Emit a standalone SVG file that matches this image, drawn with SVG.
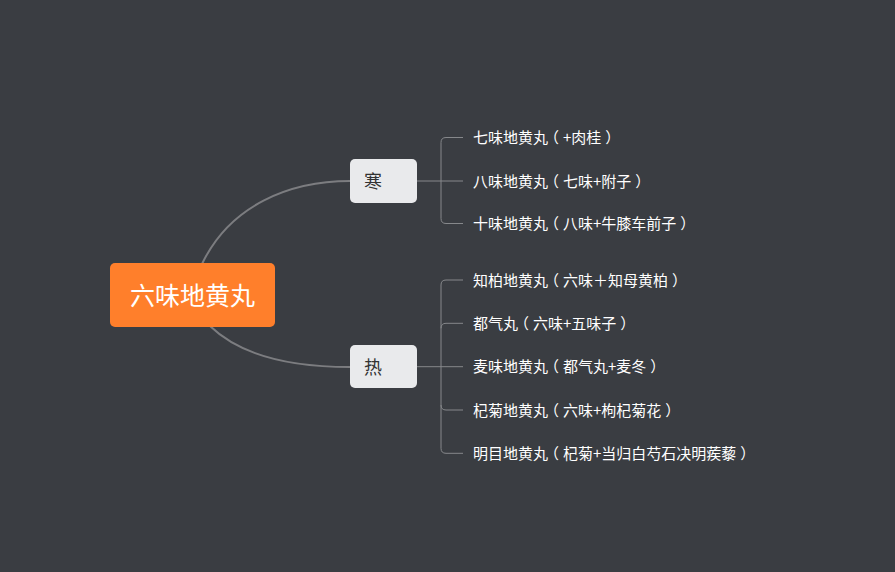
<svg xmlns="http://www.w3.org/2000/svg" width="895" height="572" viewBox="0 0 895 572">
<style>
.main{fill:none;stroke:#7c7d80;stroke-width:2}
.br{fill:none;stroke:#86888b;stroke-width:1}
.leaf{font-family:"Noto Sans CJK SC","Noto Sans",sans-serif;font-size:15px;fill:#ffffff}
.p{font-feature-settings:"halt"}
.sub{fill:#e9eaec}
.subt{font-family:"Noto Sans CJK SC","Noto Sans",sans-serif;font-size:18px;fill:#333333}
</style>
<rect width="895" height="572" fill="#3a3d42"/>
<g id="connectors">
<path class="main" d="M202,264 C230,205 290,181 350,181"/>
<path class="main" d="M210,326 C240,355 290,367 350,367"/>
<path class="br" d="M417,181 H463"/>
<path class="br" d="M463,137.5 H446 Q441,137.5 441,142.5 V218.5 Q441,223.5 446,223.5 H463"/>
<path class="br" d="M417,366.7 H463"/>
<path class="br" d="M463,280 H446 Q441,280 441,285 V448.3 Q441,453.3 446,453.3 H463"/>
<path class="br" d="M441,328.3 Q441,323.3 446,323.3 H463"/>
<path class="br" d="M441,405 Q441,410 446,410 H463"/>
</g>
<g id="root">
<rect x="110" y="263" width="165" height="64" rx="5" fill="#ff7f2b"/>
<text x="192.5" y="304.5" text-anchor="middle" font-family="Noto Sans CJK SC, Noto Sans, sans-serif" font-size="25" fill="#ffffff">六味地黄丸</text>
</g>
<g id="cold">
<rect class="sub" x="350" y="159" width="67" height="44" rx="5"/>
<text class="subt" x="364" y="188">寒</text>
</g>
<g id="hot">
<rect class="sub" x="350" y="345" width="67" height="43" rx="5"/>
<text class="subt" x="364" y="374">热</text>
</g>
<g id="c1"><text class="leaf" x="473" y="143">七味地黄丸<tspan class="p" dx="3.5">（</tspan><tspan dx="4">+肉桂</tspan><tspan class="p" dx="4">）</tspan></text></g>
<g id="c2"><text class="leaf" x="473" y="186.5">八味地黄丸<tspan class="p" dx="3.5">（</tspan><tspan dx="4">七味+附子</tspan><tspan class="p" dx="4">）</tspan></text></g>
<g id="c3"><text class="leaf" x="473" y="229">十味地黄丸<tspan class="p" dx="3.5">（</tspan><tspan dx="4">八味+牛膝车前子</tspan><tspan class="p" dx="4">）</tspan></text></g>
<g id="h1"><text class="leaf" x="473" y="285.5">知柏地黄丸<tspan class="p" dx="3.5">（</tspan><tspan dx="4">六味＋知母黄柏</tspan><tspan class="p" dx="4">）</tspan></text></g>
<g id="h2"><text class="leaf" x="473" y="328.8">都气丸<tspan class="p" dx="3.5">（</tspan><tspan dx="4">六味+五味子</tspan><tspan class="p" dx="4">）</tspan></text></g>
<g id="h3"><text class="leaf" x="473" y="372.2">麦味地黄丸<tspan class="p" dx="3.5">（</tspan><tspan dx="4">都气丸+麦冬</tspan><tspan class="p" dx="4">）</tspan></text></g>
<g id="h4"><text class="leaf" x="473" y="415.5">杞菊地黄丸<tspan class="p" dx="3.5">（</tspan><tspan dx="4">六味+枸杞菊花</tspan><tspan class="p" dx="4">）</tspan></text></g>
<g id="h5"><text class="leaf" x="473" y="458.8">明目地黄丸<tspan class="p" dx="3.5">（</tspan><tspan dx="4">杞菊+当归白芍石决明蒺藜</tspan><tspan class="p" dx="4">）</tspan></text></g>
</svg>
